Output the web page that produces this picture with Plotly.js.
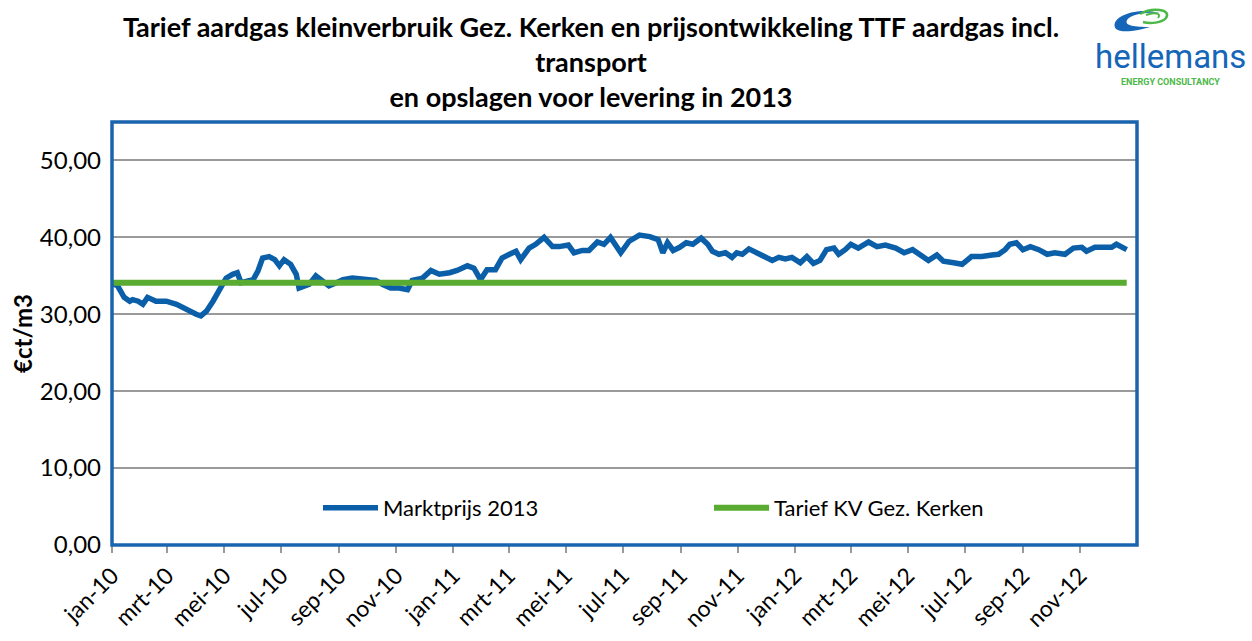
<!DOCTYPE html>
<html>
<head>
<meta charset="utf-8">
<script src="https://cdn.plot.ly/plotly-3.0.1.min.js"></script>
<style>html,body{margin:0;padding:0;background:#fff;}#chart{width:1252px;height:641px;}</style>
</head>
<body>
<div id="chart"></div>
<script>
const marktDates = ['2010-01-01','2010-01-07','2010-01-14','2010-01-20','2010-01-23','2010-01-29','2010-02-03','2010-02-08','2010-02-17','2010-02-28','2010-03-11','2010-03-21','2010-04-01','2010-04-06','2010-04-12','2010-04-19','2010-04-26','2010-05-03','2010-05-10','2010-05-15','2010-05-19','2010-05-24','2010-06-01','2010-06-06','2010-06-11','2010-06-18','2010-06-24','2010-06-29','2010-07-04','2010-07-11','2010-07-17','2010-07-20','2010-07-26','2010-07-31','2010-08-07','2010-08-14','2010-08-21','2010-08-29','2010-09-05','2010-09-15','2010-09-30','2010-10-10','2010-10-17','2010-10-26','2010-11-04','2010-11-13','2010-11-18','2010-11-29','2010-12-08','2010-12-17','2010-12-28','2011-01-05','2011-01-16','2011-01-23','2011-01-30','2011-02-06','2011-02-15','2011-02-22','2011-03-02','2011-03-09','2011-03-14','2011-03-23','2011-03-30','2011-04-08','2011-04-17','2011-04-24','2011-05-04','2011-05-10','2011-05-19','2011-05-26','2011-06-04','2011-06-11','2011-06-18','2011-06-29','2011-07-08','2011-07-19','2011-07-30','2011-08-08','2011-08-13','2011-08-18','2011-08-24','2011-08-31','2011-09-07','2011-09-14','2011-09-23','2011-09-30','2011-10-05','2011-10-12','2011-10-19','2011-10-26','2011-10-31','2011-11-06','2011-11-13','2011-11-20','2011-11-29','2011-12-08','2011-12-15','2011-12-22','2011-12-29','2012-01-07','2012-01-14','2012-01-21','2012-01-28','2012-02-04','2012-02-12','2012-02-17','2012-02-24','2012-03-01','2012-03-09','2012-03-20','2012-03-29','2012-04-07','2012-04-18','2012-04-27','2012-05-06','2012-05-13','2012-05-23','2012-06-01','2012-06-08','2012-06-19','2012-06-28','2012-07-08','2012-07-19','2012-07-30','2012-08-06','2012-08-13','2012-08-18','2012-08-25','2012-09-01','2012-09-09','2012-09-18','2012-09-27','2012-10-05','2012-10-16','2012-10-25','2012-11-03','2012-11-08','2012-11-17','2012-11-28','2012-12-05','2012-12-10','2012-12-16','2012-12-21'];
const marktValues = [34.0,33.7,32.2,31.7,31.9,31.7,31.3,32.2,31.7,31.7,31.3,30.6,30.0,29.8,30.4,31.7,33.2,34.7,35.2,35.4,34.1,34.3,34.5,35.6,37.3,37.5,37.1,36.3,37.1,36.5,35.2,33.4,33.7,33.9,35.0,34.3,33.7,34.1,34.5,34.7,34.6,34.4,33.9,33.4,33.4,33.2,34.4,34.7,35.7,35.2,35.4,35.7,36.3,36.0,34.5,35.8,35.8,37.3,37.8,38.2,37.1,38.6,39.1,40.0,38.8,38.8,39.0,38.0,38.3,38.3,39.4,39.1,40.0,38.0,39.5,40.3,40.1,39.7,38.0,39.3,38.3,38.7,39.3,39.1,39.9,39.1,38.2,37.8,38.0,37.4,38.0,37.8,38.5,38.1,37.5,37.0,37.4,37.2,37.4,36.7,37.5,36.6,37.0,38.4,38.6,37.8,38.4,39.1,38.6,39.4,38.8,39.0,38.6,38.0,38.4,37.8,37.0,37.7,36.9,36.7,36.5,37.5,37.5,37.7,37.8,38.4,39.1,39.3,38.4,38.8,38.4,37.8,38.0,37.8,38.6,38.7,38.2,38.7,38.8,38.7,39.1,38.6,38.4];
const tariefDates = ['2010-01-01','2012-12-21'];
const tariefValues = [34.1,34.1];
const tickDates = ['2010-01-01','2010-03-01','2010-05-01','2010-07-01','2010-09-01','2010-11-01','2011-01-01','2011-03-01','2011-05-01','2011-07-01','2011-09-01','2011-11-01','2012-01-01','2012-03-01','2012-05-01','2012-07-01','2012-09-01','2012-11-01'];
const tickLabels = ['jan-10','mrt-10','mei-10','jul-10','sep-10','nov-10','jan-11','mrt-11','mei-11','jul-11','sep-11','nov-11','jan-12','mrt-12','mei-12','jul-12','sep-12','nov-12'];
const seriesNames = ['Marktprijs 2013','Tarief KV Gez. Kerken'];

const W = 1252, H = 641, ML = 112, MR = 115, MT = 122, MB = 96;
const px = x => (x - ML) / (W - ML - MR);
const py = y => (H - MB - y) / (H - MT - MB);

const FONT = 'Lato, Carlito, Calibri, sans-serif';
const BLUE = '#0b5fa9';
const GREEN = '#5aab32';

const traces = [
  {x: marktDates, y: marktValues, name: seriesNames[0], type: 'scatter', mode: 'lines',
   line: {color: BLUE, width: 5.5, shape: 'linear'}},
  {x: tariefDates, y: tariefValues, name: seriesNames[1], type: 'scatter', mode: 'lines',
   line: {color: GREEN, width: 6}}
];

const logoPaths = [
  {type: 'path', xref: 'paper', yref: 'paper', layer: 'above',
   path: `M ${px(1160)} ${py(13)} C ${px(1135)} ${py(6)} ${px(1108)} ${py(18)} ${px(1116)} ${py(29)} C ${px(1122)} ${py(34)} ${px(1140)} ${py(30)} ${px(1150)} ${py(27)} C ${px(1135)} ${py(27)} ${px(1124)} ${py(26)} ${px(1127)} ${py(20)} C ${px(1131)} ${py(14)} ${px(1146)} ${py(12)} ${px(1160)} ${py(13)} Z`,
   fillcolor: '#1565b8', line: {width: 0}},
  {type: 'path', xref: 'paper', yref: 'paper', layer: 'above',
   path: `M ${px(1140)} ${py(14)} C ${px(1152)} ${py(7)} ${px(1172)} ${py(9)} ${px(1166)} ${py(18)} C ${px(1162)} ${py(23)} ${px(1150)} ${py(24)} ${px(1143)} ${py(22)}`,
   line: {color: '#4cb848', width: 2.5}},
  {type: 'path', xref: 'paper', yref: 'paper', layer: 'above',
   path: `M ${px(1146)} ${py(15)} C ${px(1154)} ${py(12)} ${px(1162)} ${py(13)} ${px(1158)} ${py(18)}`,
   line: {color: '#4cb848', width: 2}}
];

const layout = {
  width: W, height: H,
  margin: {l: ML, r: MR, t: MT, b: MB, pad: 0},
  paper_bgcolor: '#ffffff', plot_bgcolor: '#ffffff',
  separators: ',.',
  font: {family: FONT, size: 22, color: '#000'},
  title: {
    text: '<b>Tarief aardgas kleinverbruik Gez. Kerken en prijsontwikkeling TTF aardgas incl.<br>transport<br>en opslagen voor levering in 2013</b>',
    x: px(591), xref: 'paper', xanchor: 'center', y: 1 - 37/H, yanchor: 'middle',
    font: {family: FONT, size: 27, color: '#000'}
  },
  showlegend: true,
  legend: {orientation: 'h', x: px(318), xanchor: 'left', y: py(508), yanchor: 'middle',
    bgcolor: 'rgba(0,0,0,0)', font: {family: FONT, size: 22, color: '#000'},
    entrywidth: 321, entrywidthmode: 'pixels', itemwidth: 55, traceorder: 'normal'},
  xaxis: {
    type: 'date', range: ['2010-01-01', '2013-01-01'],
    tickvals: tickDates, ticktext: tickLabels, tickangle: -45,
    ticks: 'outside', ticklen: 7, tickwidth: 2, tickcolor: '#9a9a9a',
    showgrid: false, zeroline: false, showline: false,
    tickfont: {family: FONT, size: 23, color: '#000'}
  },
  yaxis: {
    range: [0, 55], tickvals: [0, 10, 20, 30, 40, 50], tickformat: '.2f',
    showgrid: true, gridcolor: '#9a9a9a', gridwidth: 2,
    zeroline: false, showline: false, ticks: '', ticklabelstandoff: 10,
    tickfont: {family: FONT, size: 24, color: '#000'},
    title: {text: '<b>€ct/m3</b>', font: {family: FONT, size: 24, color: '#000'}, standoff: 0}
  },
  shapes: [
    {type: 'rect', xref: 'paper', yref: 'paper', x0: 0, x1: 1, y0: 0, y1: 1,
     line: {color: '#1a64ad', width: 3.5}, layer: 'above'}
  ].concat(logoPaths),
  annotations: [
    {text: 'hellemans', xref: 'paper', yref: 'paper', x: px(1170), y: py(57), xanchor: 'center', yanchor: 'middle',
     showarrow: false, font: {family: 'Roboto, sans-serif', size: 33, color: '#1565b8'}},
    {text: '<b>ENERGY CONSULTANCY</b>', xref: 'paper', yref: 'paper', x: px(1170), y: py(82), xanchor: 'center', yanchor: 'middle',
     showarrow: false, font: {family: 'Roboto, sans-serif', size: 9, color: '#4cb848'}}
  ]
};

Plotly.newPlot('chart', traces, layout, {displayModeBar: false, staticPlot: true});
</script>
</body>
</html>
